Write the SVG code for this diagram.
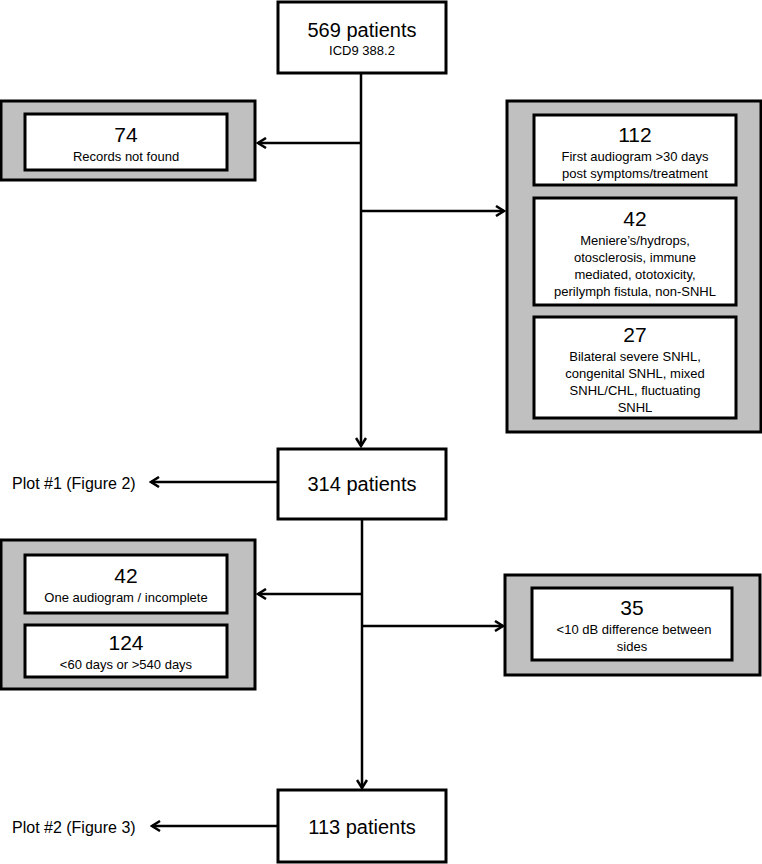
<svg xmlns="http://www.w3.org/2000/svg" width="762" height="864" viewBox="0 0 762 864">
<defs>
<style>
.box{fill:#fff;stroke:#000;stroke-width:3}
.grp{fill:#c0c0c0;stroke:#000;stroke-width:3}
.c{stroke:#000;stroke-width:2.5;fill:none}
text{font-family:"Liberation Sans",Arial,sans-serif;fill:#000;text-anchor:middle}
.big{font-size:20px}
.num{font-size:21px}
.sm{font-size:13px}
.lbl{font-size:16px;text-anchor:start}
</style>
<marker id="ah" markerWidth="12" markerHeight="12" refX="10" refY="6" orient="auto" markerUnits="userSpaceOnUse">
<path d="M2,1 L10,6 L2,11" fill="none" stroke="#000" stroke-width="2.5"/>
</marker>
</defs>
<g id="connectors">
<line class="c" x1="361" y1="73" x2="361" y2="446" marker-end="url(#ah)"/>
<line class="c" x1="361" y1="143" x2="258" y2="143" marker-end="url(#ah)"/>
<line class="c" x1="361" y1="211" x2="504" y2="211" marker-end="url(#ah)"/>
<line class="c" x1="278" y1="482" x2="151" y2="482" marker-end="url(#ah)"/>
<line class="c" x1="362" y1="520" x2="362" y2="788" marker-end="url(#ah)"/>
<line class="c" x1="362" y1="594" x2="258" y2="594" marker-end="url(#ah)"/>
<line class="c" x1="362" y1="626" x2="503" y2="626" marker-end="url(#ah)"/>
<line class="c" x1="278" y1="826" x2="152" y2="826" marker-end="url(#ah)"/>
</g>
<g id="n569"><rect class="box" x="278" y="2" width="168" height="71"/>
<text class="big" x="362" y="37">569 patients</text><text class="sm" x="362" y="55">ICD9 388.2</text></g>
<g id="g1"><rect class="grp" x="1" y="101" width="254" height="79"/>
<rect class="box" x="25" y="114" width="202" height="56"/>
<text class="num" x="126" y="142">74</text><text class="sm" x="126" y="161">Records not found</text></g>
<g id="g2"><rect class="grp" x="507" y="101" width="254" height="331"/>
<rect class="box" x="534" y="115" width="202" height="70"/>
<text class="num" x="635" y="142">112</text><text class="sm" x="635" y="161">First audiogram &gt;30 days</text><text class="sm" x="635" y="178">post symptoms/treatment</text>
<rect class="box" x="534" y="198" width="202" height="107"/>
<text class="num" x="635" y="226">42</text><text class="sm" x="635" y="245">Meniere’s/hydrops,</text><text class="sm" x="635" y="262">otosclerosis, immune</text><text class="sm" x="635" y="279">mediated, ototoxicity,</text><text class="sm" x="635" y="296">perilymph fistula, non-SNHL</text>
<rect class="box" x="534" y="317" width="202" height="101"/>
<text class="num" x="635" y="342">27</text><text class="sm" x="635" y="361">Bilateral severe SNHL,</text><text class="sm" x="635" y="378">congenital SNHL, mixed</text><text class="sm" x="635" y="395">SNHL/CHL, fluctuating</text><text class="sm" x="635" y="412">SNHL</text></g>
<g id="n314"><rect class="box" x="278" y="449" width="168" height="70"/>
<text class="big" x="362" y="491">314 patients</text></g>
<g id="plot1"><text class="lbl" x="12" y="489">Plot #1 (Figure 2)</text></g>
<g id="g3"><rect class="grp" x="1" y="540" width="254" height="149"/>
<rect class="box" x="25" y="555" width="202" height="58"/>
<text class="num" x="126" y="583">42</text><text class="sm" x="126" y="602">One audiogram / incomplete</text>
<rect class="box" x="25" y="625" width="202" height="52"/>
<text class="num" x="126" y="650">124</text><text class="sm" x="126" y="669">&lt;60 days or &gt;540 days</text></g>
<g id="g4"><rect class="grp" x="505" y="575" width="255" height="100"/>
<rect class="box" x="532" y="588" width="200" height="72"/>
<text class="num" x="632" y="615">35</text><text class="sm" x="634" y="634">&lt;10 dB difference between</text><text class="sm" x="632" y="651">sides</text></g>
<g id="n113"><rect class="box" x="278" y="790" width="168" height="72"/>
<text class="big" x="362" y="834">113 patients</text></g>
<g id="plot2"><text class="lbl" x="12" y="833">Plot #2 (Figure 3)</text></g>
</svg>
